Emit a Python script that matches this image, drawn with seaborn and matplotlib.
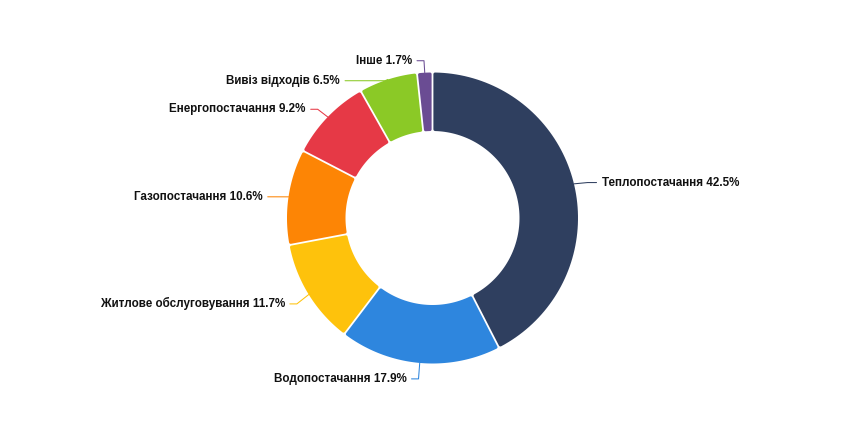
import numpy as np
import matplotlib
matplotlib.use('Agg')
import matplotlib.pyplot as plt
from matplotlib.patches import Polygon
import seaborn as sns

# дані: частки витрат, %
categories = ['Теплопостачання', 'Водопостачання', 'Житлове обслуговування',
              'Газопостачання', 'Енергопостачання', 'Вивіз відходів', 'Інше']
shares = [42.5, 17.9, 11.7, 10.6, 9.2, 6.5, 1.7]
colors = ['#2f3f5f', '#2e86de', '#fec20c', '#fd8505', '#e63946', '#8bc926', '#6a4c93']

sns.set_style('white')
plt.rcParams['font.family'] = ['Liberation Sans', 'DejaVu Sans']

W, H = 866, 428
fig = plt.figure(figsize=(W / 100, H / 100), dpi=100)
ax = fig.add_axes([0, 0, 1, 1])

cx, cy = 432.5, 210          # центр кільця (в пікселях)
r_out, r_in = 145.5, 87
pal = sns.color_palette(colors)

wedges, _ = ax.pie(shares, colors=pal, startangle=90, counterclock=False,
                   radius=r_out, center=(cx, cy),
                   wedgeprops=dict(width=r_out - r_in))
ax.set_xlim(0, W)
ax.set_ylim(0, H)
ax.set_aspect('equal')
ax.axis('off')

# заокруглені кути + білі проміжки між секторами
h = 1.6
gap = 1.8
mids = []
for w, col in zip(wedges, pal):
    t1, t2 = np.radians(w.theta1), np.radians(w.theta2)
    mids.append((t1 + t2) / 2)
    ro, ri = r_out - h, r_in + h
    d_o = (gap / 2 + h) / ro
    d_i = (gap / 2 + h) / ri
    to = np.linspace(t1 + d_o, t2 - d_o, 90)
    ti = np.linspace(t2 - d_i, t1 + d_i, 90)
    pts = np.r_[np.c_[cx + ro * np.cos(to), cy + ro * np.sin(to)],
                np.c_[cx + ri * np.cos(ti), cy + ri * np.sin(ti)]]
    w.set_visible(False)
    ax.add_patch(Polygon(pts, closed=True, fc=col, ec=col,
                         lw=2 * h * 0.72, joinstyle='round'))

# розміщення підписів
step = 14
labels = []
for i, m in enumerate(mids):
    p0 = (cx + r_out * np.cos(m), cy + r_out * np.sin(m))
    p1 = (cx + (r_out + step) * np.cos(m), cy + (r_out + step) * np.sin(m))
    labels.append(dict(i=i, p0=p0, p1=p1, right=np.cos(m) > 0,
                       y=p1[1] - 2, moved=False))

min_gap = 20
for side in (True, False):
    group = sorted([l for l in labels if l['right'] == side], key=lambda l: -l['y'])
    for a, b in zip(group, group[1:]):
        if a['y'] - b['y'] < min_gap:
            b['y'] = a['y'] - min_gap
            b['moved'] = True

R_lab = 165.5
for l in labels:
    sgn = 1 if l['right'] else -1
    if l['moved']:
        dy = l['y'] - cy
        x = cx + sgn * np.sqrt(max(R_lab ** 2 - dy ** 2, 0))
        bx = l['p0'][0] + sgn * 3
    else:
        x = l['p1'][0] + sgn * (step if l['right'] else step - 2)
        bx = l['p1'][0]
    y = l['y']
    ex = x - sgn * 5
    col = pal[l['i']]
    ax.plot([l['p0'][0], bx, ex], [l['p0'][1], y, y], color=col, lw=0.75,
            solid_joinstyle='round')
    ax.text(x, y, f"{categories[l['i']]} {shares[l['i']]}%",
            ha='left' if l['right'] else 'right', va='center',
            fontsize=8.4, fontweight='bold', color='#111111')

plt.savefig('out.png', dpi=100)
